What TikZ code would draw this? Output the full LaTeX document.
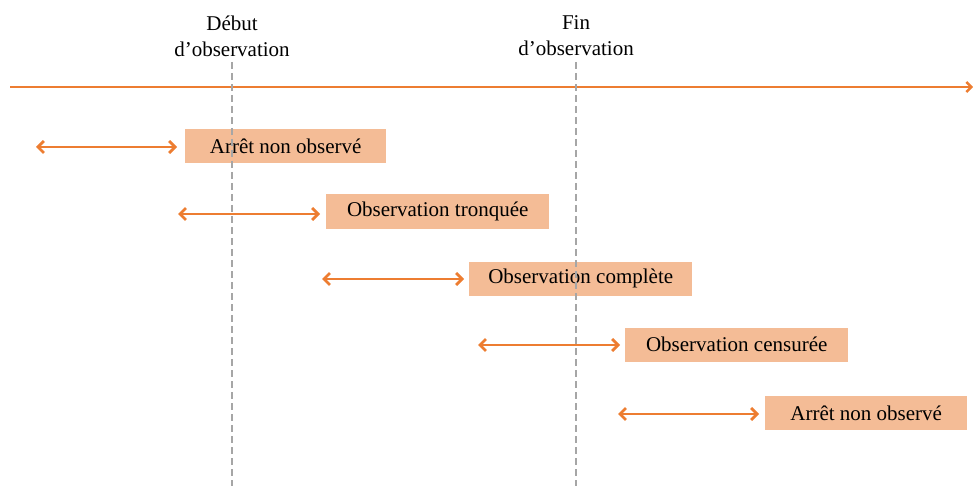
\documentclass[tikz,border=0pt]{standalone}
\usepackage{fontspec}
\setmainfont{Liberation Serif}
\usetikzlibrary{arrows.meta}
\definecolor{orng}{HTML}{ED7D31}
\definecolor{peach}{HTML}{F4BC96}
\definecolor{dgray}{HTML}{A6A6A6}
\begin{document}
\begin{tikzpicture}[x=1pt,y=-1pt,
  box/.style={fill=peach,draw=none,minimum width=#1,minimum height=34pt,inner sep=0pt,
    font=\fontsize{21}{25}\selectfont,anchor=west},
  span/.style={draw=orng,line width=2.8pt,{Straight Barb[length=6pt,width=12pt]}-{Straight Barb[length=6pt,width=12pt]}},
  guide/.style={draw=dgray,line width=2.2pt,dash pattern=on 7pt off 4pt},
  lbl/.style={font=\fontsize{21}{26}\selectfont,align=center,inner sep=0pt}]
\useasboundingbox (0,0) rectangle (973,486);
% timeline
\coordinate (t0) at (10,87);
\coordinate (t1) at (973,87);
\draw[draw=orng,line width=2.4pt,-{Straight Barb[length=5pt,width=10pt]}] (t0) -- (t1);
% boxes
\node[box=201pt] (b1) at (185,146) {Arrêt non observé};
\node[box=223pt] (b2) at (326,211.5) {Observation tronquée};
\node[box=223pt] (b3) at (469,278.5) {Observation complète};
\node[box=223pt] (b4) at (625,344.5) {Observation censurée};
\node[box=202pt] (b5) at (765,413) {Arrêt non observé};
% arrows
\coordinate (a1) at (36,147);
\coordinate (a2) at (178,214);
\coordinate (a3) at (322,279);
\coordinate (a4) at (478,345);
\coordinate (a5) at (618,414);
\draw[span] (a1) -- ([xshift=-8pt]b1.west |- a1);
\draw[span] (a2) -- ([xshift=-6pt]b2.west |- a2);
\draw[span] (a3) -- ([xshift=-5pt]b3.west |- a3);
\draw[span] (a4) -- ([xshift=-5pt]b4.west |- a4);
\draw[span] (a5) -- ([xshift=-6pt]b5.west |- a5);
% labels and guides
\node[lbl] (l1) at (232,36) {Début\\d’observation};
\node[lbl] (l2) at (576,36) {Fin\\d’observation};
\coordinate (g1) at (232,486);
\coordinate (g2) at (576,486);
\draw[guide] (232,62) -- (g1);
\draw[guide] (576,62) -- (g2);
\end{tikzpicture}
\end{document}
